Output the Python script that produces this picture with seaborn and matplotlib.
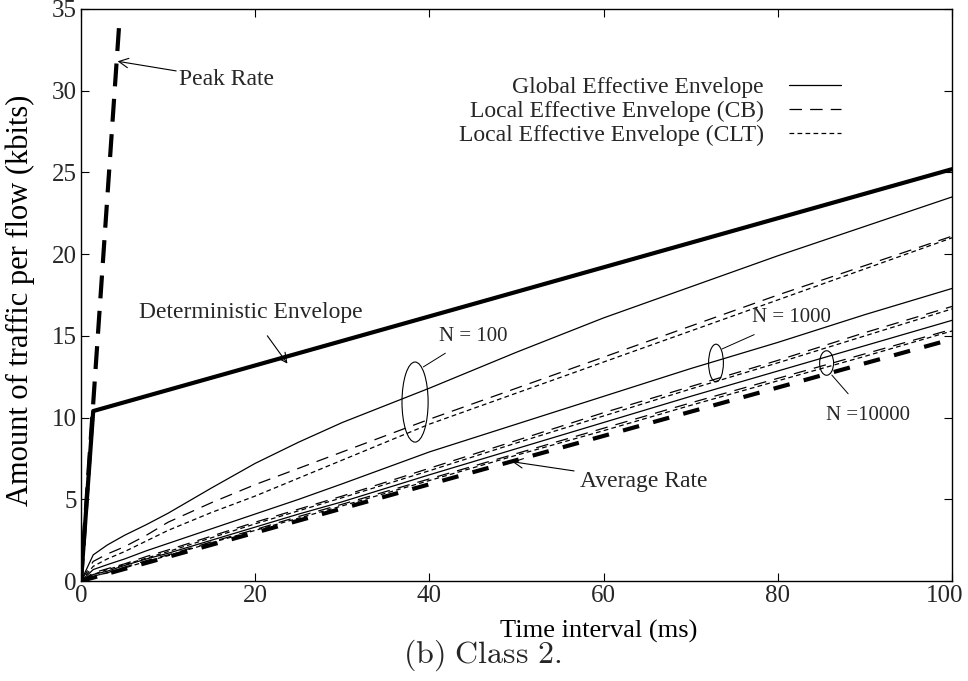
import numpy as np
import pandas as pd
import matplotlib
matplotlib.use("Agg")
import matplotlib.pyplot as plt
import matplotlib.transforms as mtransforms
import seaborn as sns
from matplotlib.lines import Line2D
from matplotlib.patches import Ellipse

# ---- data (kbits per flow vs. time interval in ms) ----
t_ms = [0, 1.4, 3, 5, 7.5, 10, 15, 20, 25, 30, 40, 50, 60, 70, 80, 90, 100]

global_n100 = [0, 1.6, 2.2, 2.8, 3.45, 4.15, 5.7, 7.2, 8.5, 9.7, 11.8, 14.0, 16.1, 18.0, 19.9, 21.7, 23.5]
cb_n100 = [0, 1.2, 1.65, 2.1, 2.8, 3.6, 4.8, 5.9, 6.9, 7.9, 9.9, 11.8, 13.7, 15.6, 17.5, 19.3, 21.1]
clt_n100 = [0, 0.9, 1.35, 1.8, 2.45, 3.1, 4.2, 5.2, 6.3, 7.4, 9.6, 11.5, 13.4, 15.3, 17.2, 19.1, 21.0]

global_n1000 = [0, 0.7, 1.0, 1.35, 1.85, 2.3, 3.2, 4.1, 5.0, 5.95, 7.9, 9.6, 11.3, 13.0, 14.6, 16.3, 17.9]
cb_n1000 = [0, 0.5, 0.75, 1.05, 1.5, 1.9, 2.75, 3.6, 4.4, 5.2, 6.9, 8.6, 10.3, 11.9, 13.5, 15.2, 16.8]
clt_n1000 = [0, 0.4, 0.7, 1.0, 1.4, 1.8, 2.65, 3.5, 4.3, 5.1, 6.75, 8.45, 10.1, 11.75, 13.35, 15.0, 16.65]

global_n10000 = [0, 0.4, 0.6, 0.95, 1.35, 1.7, 2.5, 3.3, 4.1, 4.85, 6.5, 8.1, 9.7, 11.3, 12.85, 14.4, 15.95]
cb_n10000 = [0, 0.3, 0.5, 0.85, 1.25, 1.6, 2.4, 3.15, 3.95, 4.7, 6.25, 7.8, 9.35, 10.9, 12.4, 13.9, 15.4]
clt_n10000 = [0, 0.3, 0.5, 0.8, 1.2, 1.55, 2.35, 3.1, 3.85, 4.6, 6.15, 7.7, 9.2, 10.75, 12.25, 13.75, 15.3]

peak_t = [0, 4.4]
peak_kb = [0, 34.2]
det_t = [0, 1.4, 100]
det_kb = [0, 10.4, 25.2]
avg_t = [0, 100]
avg_kb = [0, 14.8]

x_ticks = [0, 20, 40, 60, 80, 100]
y_ticks = [0, 5, 10, 15, 20, 25, 30, 35]

methods = ["Global Effective Envelope",
           "Local Effective Envelope (CB)",
           "Local Effective Envelope (CLT)"]

series = {
    (100, methods[0]): global_n100, (100, methods[1]): cb_n100, (100, methods[2]): clt_n100,
    (1000, methods[0]): global_n1000, (1000, methods[1]): cb_n1000, (1000, methods[2]): clt_n1000,
    (10000, methods[0]): global_n10000, (10000, methods[1]): cb_n10000, (10000, methods[2]): clt_n10000,
}
env = pd.concat(
    [pd.DataFrame({"t": t_ms, "kbits": v, "N": n, "method": m}) for (n, m), v in series.items()],
    ignore_index=True,
)

# ---- style ----
sns.set_theme(style="ticks")
plt.rcParams["font.family"] = ["Liberation Serif", "DejaVu Serif"]
plt.rcParams["mathtext.fontset"] = "cm"
plt.rcParams["xtick.direction"] = "in"
plt.rcParams["ytick.direction"] = "in"

line_styles = {
    methods[0]: "-",
    methods[1]: (0, (10, 6.5)),
    methods[2]: (0, (3.8, 2.6)),
}
thin = 0.9

fig = plt.figure(figsize=(9.68, 6.81), dpi=100)
ax = fig.add_axes([0.0837, 0.1468, 0.8998, 0.8400])

for (n, m), sub in env.groupby(["N", "method"], sort=False):
    sns.lineplot(data=sub, x="t", y="kbits", ax=ax, color="black", lw=thin,
                 linestyle=line_styles[m], estimator=None, sort=False, legend=False)

sns.lineplot(x=det_t, y=det_kb, ax=ax, color="black", lw=3.0, estimator=None, sort=False)
sns.lineplot(x=peak_t, y=peak_kb, ax=ax, color="black", lw=3.0,
             linestyle=(0, (5.5, 3)), estimator=None, sort=False)
sns.lineplot(x=avg_t, y=avg_kb, ax=ax, color="black", lw=3.0,
             linestyle=(0, (4, 3.5)), estimator=None, sort=False)

ax.set_xlim(0, 100)
ax.set_ylim(0, 35)
ax.set_xticks(x_ticks)
ax.set_yticks(y_ticks)
ax.tick_params(axis="both", which="both", direction="in", top=True, right=True,
               length=6, width=0.8, labelsize=18, color="black", pad=3)
for side in ["top", "right", "left", "bottom"]:
    ax.spines[side].set_visible(True)
    ax.spines[side].set_color("black")
    ax.spines[side].set_linewidth(1.0)

# pull the last x tick label slightly inward so it stays on the canvas
last = ax.get_xticklabels()[-1]
last.set_transform(last.get_transform()
                   + mtransforms.ScaledTranslation(-7 / 100, 0, fig.dpi_scale_trans))

ax.set_xlabel("Time interval (ms)", fontsize=19, color="black")
ax.xaxis.set_label_coords(0.594, -0.068)
ax.set_ylabel("Amount of traffic per flow (kbits)", fontsize=22, color="black")
ax.yaxis.set_label_coords(-0.053, 0.49)

# legend with text on the left, line sample on the right
handles = [Line2D([], [], color="black", lw=thin, linestyle=line_styles[m]) for m in methods]
leg = ax.legend(handles, methods, loc="upper right", bbox_to_anchor=(0.883, 0.898),
                markerfirst=False, frameon=False, fontsize=17, handlelength=2.2,
                handletextpad=1.05, labelspacing=0.1, borderaxespad=0)

# annotations
arrow = dict(arrowstyle="->", color="black", lw=0.8, shrinkA=0, shrinkB=0)
ax.annotate("Peak Rate", xy=(4.2, 31.8), xytext=(11.3, 30.7), fontsize=17,
            ha="left", va="center", arrowprops=arrow)
ax.annotate("Deterministic Envelope", xy=(23.7, 13.3), xytext=(19.5, 16.4), fontsize=17,
            ha="center", va="center",
            arrowprops=dict(arrowstyle="->", color="black", lw=0.8, shrinkA=8, shrinkB=0))
ax.annotate("Average Rate", xy=(49.5, 7.3), xytext=(57.3, 6.1), fontsize=17,
            ha="left", va="center",
            arrowprops=dict(arrowstyle="->", color="black", lw=0.8, shrinkA=2, shrinkB=0))

ax.add_patch(Ellipse((38.35, 10.95), 3.0, 4.9, fill=False, ec="black", lw=0.8))
ax.add_patch(Ellipse((72.9, 13.34), 1.7, 2.3, fill=False, ec="black", lw=0.8))
ax.add_patch(Ellipse((85.6, 13.34), 1.6, 1.5, fill=False, ec="black", lw=0.8))

ax.annotate("N = 100", xy=(39.3, 13.1), xytext=(45.0, 14.99), fontsize=15,
            ha="center", va="center",
            arrowprops=dict(arrowstyle="-", color="black", lw=0.7, shrinkA=6, shrinkB=0))
ax.annotate("N = 1000", xy=(73.6, 14.2), xytext=(81.6, 16.1), fontsize=15,
            ha="center", va="center",
            arrowprops=dict(arrowstyle="-", color="black", lw=0.7, shrinkA=7, shrinkB=0))
ax.annotate("N =10000", xy=(86.2, 12.6), xytext=(90.3, 10.1), fontsize=15,
            ha="center", va="center",
            arrowprops=dict(arrowstyle="-", color="black", lw=0.7, shrinkA=9, shrinkB=0))

fig.text(0.498, 0.038, r"$\mathrm{(b)\ Class\ 2.}$", fontsize=23, ha="center", va="center")

fig.savefig("out.png", dpi=100, facecolor="white")
